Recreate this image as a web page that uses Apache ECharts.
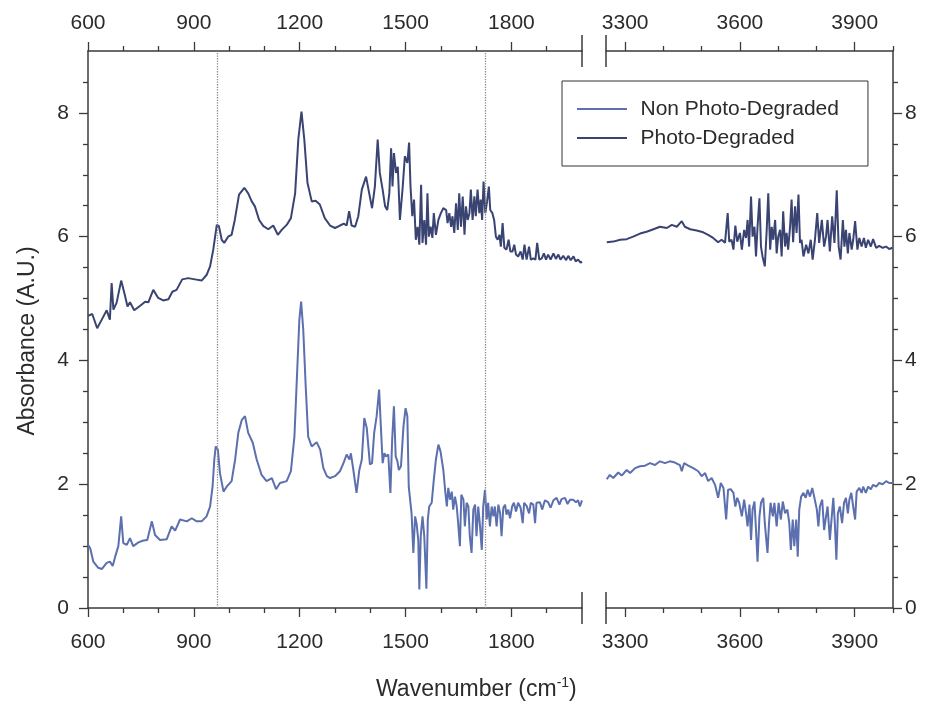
<!DOCTYPE html>
<html>
<head>
<meta charset="utf-8">
<script src="https://cdn.jsdelivr.net/npm/echarts@6/dist/echarts.min.js"></script>
<style>html,body{margin:0;padding:0;background:#fff}#c{width:927px;height:704px}</style>
</head>
<body>
<div id="c"></div>
<script>
// ---- Data (wavenumber, absorbance) ----
const degLeftX = [600,612,626,639,653,662,667,672,681,694,703,712,719,731,747,762,771,785,799,813,828,839,851,867,884,903,922,936,946,955,965,971,979,986,997,1007,1016,1028,1043,1054,1064,1073,1085,1097,1111,1125,1138,1149,1163,1175,1187,1196,1205,1213,1222,1234,1245,1257,1271,1286,1300,1314,1325,1333,1340,1347,1357,1366,1376,1388,1397,1405,1413,1421,1427,1435,1442,1448,1454,1459,1463,1467,1473,1478,1484,1492,1498,1505,1510,1514,1519,1524,1529,1534,1539,1544,1548,1553,1558,1562,1566,1571,1576,1580,1586,1593,1600,1607,1615,1619,1624,1629,1633,1638,1643,1648,1652,1657,1662,1667,1671,1676,1681,1685,1690,1695,1699,1704,1709,1713,1717,1721,1726,1731,1736,1740,1746,1751,1756,1761,1766,1770,1775,1780,1786,1792,1797,1803,1808,1813,1819,1826,1832,1837,1843,1850,1855,1862,1868,1873,1879,1886,1892,1898,1904,1911,1919,1926,1933,1939,1947,1955,1961,1968,1976,1982,1989,1996,2000];
const degLeftY = [4.72,4.75,4.52,4.66,4.81,4.66,5.25,4.82,4.93,5.29,5.09,4.87,4.94,4.81,4.88,4.95,4.94,5.14,5.01,4.97,4.99,5.11,5.14,5.31,5.33,5.31,5.29,5.38,5.52,5.79,6.19,6.17,5.95,5.90,6.00,6.03,6.27,6.68,6.79,6.70,6.57,6.49,6.27,6.17,6.12,6.18,6.03,6.11,6.19,6.30,6.70,7.57,8.02,7.57,6.87,6.57,6.58,6.52,6.30,6.18,6.14,6.18,6.21,6.18,6.41,6.18,6.16,6.33,6.76,6.97,6.70,6.46,6.81,7.57,7.03,6.76,6.49,6.43,6.70,7.43,6.81,7.35,7.03,7.13,6.27,6.81,7.30,7.19,7.52,6.81,6.33,6.60,5.95,6.16,5.87,6.84,5.90,6.27,5.87,6.70,6.00,6.16,5.98,6.38,6.03,6.27,6.38,6.46,6.43,6.22,6.38,6.16,6.33,6.06,6.54,6.11,6.70,6.16,6.65,6.03,6.49,6.27,6.38,6.76,6.27,6.65,6.33,6.76,6.38,6.60,6.27,6.89,6.38,6.57,6.81,6.43,6.38,6.27,6.00,5.95,6.03,5.84,6.22,5.82,5.79,5.95,5.76,5.76,5.87,5.71,5.68,5.76,5.63,5.87,5.63,5.84,5.63,5.65,5.63,5.90,5.63,5.65,5.73,5.63,5.71,5.63,5.73,5.64,5.71,5.63,5.69,5.62,5.69,5.62,5.68,5.60,5.63,5.58,5.60];

const nonDegLeftX = [600,606,615,629,639,653,662,670,677,686,694,700,710,719,728,743,757,768,781,790,804,823,837,847,861,880,894,908,922,936,946,953,958,962,968,974,984,993,1007,1017,1026,1036,1045,1054,1067,1078,1092,1106,1121,1133,1144,1163,1175,1185,1193,1199,1204,1210,1217,1224,1234,1248,1258,1267,1277,1286,1300,1314,1324,1333,1341,1345,1352,1361,1369,1376,1383,1390,1394,1399,1405,1411,1418,1425,1430,1435,1440,1444,1451,1457,1462,1467,1472,1477,1481,1487,1494,1500,1505,1509,1512,1517,1522,1527,1531,1536,1539,1543,1548,1553,1559,1563,1567,1574,1580,1586,1593,1599,1607,1612,1617,1621,1626,1631,1635,1640,1645,1649,1654,1658,1664,1668,1673,1678,1682,1687,1692,1697,1701,1706,1711,1716,1720,1725,1730,1734,1739,1744,1749,1753,1758,1763,1768,1772,1777,1782,1786,1791,1796,1802,1807,1813,1819,1826,1832,1836,1843,1850,1855,1862,1867,1871,1881,1887,1895,1904,1911,1919,1928,1936,1942,1952,1959,1966,1975,1983,1989,1994,2000];
const nonDegLeftY = [1.02,0.97,0.75,0.65,0.63,0.73,0.75,0.68,0.83,1.00,1.48,1.05,1.02,1.13,1.00,1.06,1.09,1.10,1.40,1.18,1.10,1.11,1.32,1.25,1.43,1.40,1.45,1.40,1.40,1.48,1.64,1.96,2.40,2.61,2.56,2.18,1.88,1.96,2.05,2.40,2.83,3.04,3.10,2.83,2.67,2.40,2.15,2.05,2.10,1.92,2.02,2.05,2.21,2.77,3.85,4.66,4.95,4.50,3.58,2.77,2.61,2.68,2.56,2.26,2.13,2.10,2.13,2.21,2.34,2.48,2.40,2.50,2.23,1.86,2.23,2.40,3.07,2.91,2.88,2.32,2.34,2.83,3.10,3.53,2.93,2.34,2.50,2.45,2.48,1.86,2.72,3.26,2.45,2.37,2.23,2.29,2.93,3.23,3.10,1.96,1.94,1.53,0.89,1.48,1.37,1.10,0.30,1.16,1.48,1.16,0.31,1.43,1.64,1.70,2.07,2.40,2.64,2.53,2.23,1.91,1.64,1.94,1.75,1.88,1.59,1.80,1.64,1.37,1.00,1.83,1.75,1.32,1.70,1.64,1.16,0.89,1.59,1.67,1.16,1.64,1.32,0.94,1.64,1.91,1.43,1.70,1.32,1.64,1.48,1.64,1.32,1.67,1.53,1.16,1.62,1.67,1.51,1.59,1.45,1.64,1.70,1.56,1.70,1.62,1.37,1.70,1.65,1.53,1.70,1.67,1.37,1.70,1.71,1.59,1.74,1.71,1.62,1.74,1.78,1.67,1.76,1.78,1.68,1.75,1.75,1.71,1.74,1.64,1.74];

const degRightX = [3252,3269,3287,3304,3321,3339,3356,3374,3391,3409,3422,3435,3448,3456,3470,3487,3504,3517,3530,3543,3552,3561,3568,3572,3578,3583,3588,3593,3600,3605,3611,3616,3620,3624,3629,3633,3638,3642,3646,3651,3655,3659,3665,3670,3674,3679,3683,3687,3692,3696,3700,3705,3709,3713,3718,3722,3726,3731,3735,3739,3744,3748,3753,3757,3761,3766,3773,3779,3785,3790,3796,3802,3807,3814,3820,3825,3829,3835,3841,3847,3853,3858,3863,3869,3873,3877,3882,3886,3892,3896,3901,3907,3912,3918,3924,3929,3935,3942,3948,3956,3964,3973,3982,3990,3999];
const degRightY = [5.91,5.92,5.95,5.96,6.00,6.05,6.08,6.12,6.16,6.14,6.19,6.16,6.25,6.16,6.12,6.10,6.07,6.03,5.98,5.91,5.95,5.90,6.38,5.92,5.95,5.79,6.18,5.92,6.06,5.79,6.11,5.98,6.27,5.84,6.65,6.00,6.16,5.68,6.16,6.62,5.84,5.68,5.52,6.11,6.70,5.79,6.16,5.95,6.27,5.73,6.00,6.11,5.68,6.41,5.84,6.06,5.79,6.16,6.60,5.91,6.49,6.06,6.68,5.90,5.95,5.68,5.87,5.73,5.95,5.63,5.95,6.38,5.90,6.27,5.84,6.00,6.27,5.76,6.33,5.90,6.75,5.84,5.63,6.27,5.84,6.11,5.73,6.06,5.79,5.95,6.25,5.79,5.98,5.84,5.98,5.82,5.95,5.84,5.96,5.82,5.85,5.82,5.84,5.80,5.82];

const nonDegRightX = [3252,3260,3269,3282,3291,3304,3313,3326,3339,3352,3365,3378,3391,3404,3417,3430,3443,3448,3454,3465,3478,3491,3500,3509,3517,3526,3535,3543,3550,3557,3564,3569,3576,3583,3588,3593,3598,3605,3611,3616,3620,3625,3629,3633,3638,3642,3646,3651,3655,3661,3665,3672,3676,3680,3686,3690,3696,3701,3707,3712,3718,3724,3729,3733,3738,3742,3747,3751,3755,3760,3766,3772,3777,3783,3789,3794,3801,3805,3809,3815,3820,3825,3829,3835,3840,3844,3848,3852,3856,3861,3867,3872,3877,3882,3886,3891,3896,3901,3905,3912,3918,3922,3929,3935,3942,3948,3956,3964,3973,3982,3990,3999];
const nonDegRightY = [2.08,2.15,2.10,2.19,2.14,2.23,2.18,2.26,2.29,2.30,2.34,2.31,2.37,2.34,2.37,2.35,2.31,2.21,2.34,2.30,2.26,2.21,2.13,2.18,2.05,2.10,1.99,1.78,2.02,1.94,1.43,1.91,1.92,1.86,1.64,1.78,1.70,1.48,1.75,1.53,1.32,1.67,1.10,1.59,1.72,1.26,0.75,1.48,1.70,1.78,1.37,0.89,1.37,1.70,1.48,1.70,1.32,1.70,1.43,1.72,1.53,1.59,1.37,0.94,1.43,1.00,1.43,0.83,1.59,1.80,1.86,1.78,1.91,1.80,1.94,1.80,1.59,1.32,1.64,1.75,1.26,1.48,1.64,1.10,1.48,1.78,1.37,0.78,1.53,1.64,1.37,1.70,1.78,1.53,1.75,1.86,1.64,1.43,1.88,1.94,1.86,1.96,1.86,1.96,1.92,1.99,1.96,2.02,2.00,2.05,2.02,2.02];

// ---- Tick values ----
const leftMajorTicks = [600, 900, 1200, 1500, 1800];
const leftMinorTicks = [700, 800, 1000, 1100, 1300, 1400, 1600, 1700, 1900];
const rightMajorTicks = [3300, 3600, 3900];
const rightMinorTicks = [3400, 3500, 3700, 3800, 4000];
const yMajorTicks = [0, 2, 4, 6, 8];
const yMinorTicks = [0.5, 1, 1.5, 2.5, 3, 3.5, 4.5, 5, 5.5, 6.5, 7, 7.5, 8.5];
const markerLines = [966, 1727];

const pairs = (xs, ys) => xs.map((x, i) => [x, ys[i]]);

const AXIS_COLOR = '#3a3a3a';
const TEXT_COLOR = '#2b2b2b';
const FONT = 'Liberation Sans, Arial, sans-serif';
const COLOR_NON = '#5c6fae';
const COLOR_DEG = '#3a4472';
const plain = v => String(v);

function xAx(grid, min, max, pos, ticks, major) {
  return {
    type: 'value', gridIndex: grid, min: min, max: max, position: pos,
    axisLine: { show: major, onZero: false, lineStyle: { color: AXIS_COLOR, width: 1.5 } },
    axisTick: { show: true, length: major ? 9 : 5, customValues: ticks, lineStyle: { color: AXIS_COLOR, width: 1.3 } },
    axisLabel: major ? { show: true, customValues: ticks, formatter: plain, margin: pos === 'top' ? 17 : 24, color: TEXT_COLOR, fontSize: 21, fontFamily: FONT } : { show: false },
    splitLine: { show: false }
  };
}
function yAx(grid, pos, ticks, major) {
  return {
    type: 'value', gridIndex: grid, min: 0, max: 9, position: pos,
    axisLine: { show: major, onZero: false, lineStyle: { color: AXIS_COLOR, width: 1.5 } },
    axisTick: { show: true, length: major ? 9 : 5, customValues: ticks, lineStyle: { color: AXIS_COLOR, width: 1.3 } },
    axisLabel: major ? { show: true, customValues: ticks, formatter: plain, margin: pos === 'left' ? 19 : 12, color: TEXT_COLOR, fontSize: 21, fontFamily: FONT } : { show: false },
    splitLine: { show: false }
  };
}

const chart = echarts.init(document.getElementById('c'), null, { renderer: 'canvas' });
const option = {
  animation: false,
  backgroundColor: '#ffffff',
  grid: [
    { left: 88, top: 51, width: 494, height: 557 },
    { left: 606, top: 51, width: 287, height: 557 }
  ],
  xAxis: [
    xAx(0, 600, 2000, 'bottom', leftMajorTicks, true),
    xAx(0, 600, 2000, 'bottom', leftMinorTicks, false),
    xAx(0, 600, 2000, 'top', leftMajorTicks, true),
    xAx(0, 600, 2000, 'top', leftMinorTicks, false),
    xAx(1, 3250, 4000, 'bottom', rightMajorTicks, true),
    xAx(1, 3250, 4000, 'bottom', rightMinorTicks, false),
    xAx(1, 3250, 4000, 'top', rightMajorTicks, true),
    xAx(1, 3250, 4000, 'top', rightMinorTicks, false)
  ],
  yAxis: [
    yAx(0, 'left', yMajorTicks, true),
    yAx(0, 'left', yMinorTicks, false),
    yAx(1, 'right', yMajorTicks, true),
    yAx(1, 'right', yMinorTicks, false)
  ],
  legend: {
    data: ['Non Photo-Degraded', 'Photo-Degraded'],
    orient: 'vertical', left: 562, top: 81,
    padding: [17, 29, 17, 15],
    borderColor: '#333', borderWidth: 1,
    icon: 'path://M0,0 L100,0 L100,4 L0,4 Z',
    itemWidth: 51, itemHeight: 2, itemGap: 7,
    selectedMode: false,
    textStyle: { fontSize: 21, color: TEXT_COLOR, fontFamily: FONT, lineHeight: 22, padding: [0, 0, 0, 8] }
  },
  series: [
    {
      name: 'Non Photo-Degraded', type: 'line', xAxisIndex: 0, yAxisIndex: 0,
      data: pairs(nonDegLeftX, nonDegLeftY), symbol: 'none', showSymbol: false,
      lineStyle: { color: COLOR_NON, width: 2 }, itemStyle: { color: COLOR_NON },
      markLine: {
        silent: true, symbol: ['none', 'none'], label: { show: false },
        lineStyle: { type: 'dotted', color: '#8a8a8a', width: 1.3 },
        data: markerLines.map(v => ({ xAxis: v }))
      }
    },
    {
      name: 'Photo-Degraded', type: 'line', xAxisIndex: 0, yAxisIndex: 0,
      data: pairs(degLeftX, degLeftY), symbol: 'none', showSymbol: false,
      lineStyle: { color: COLOR_DEG, width: 2 }, itemStyle: { color: COLOR_DEG }
    },
    {
      name: 'Non Photo-Degraded', type: 'line', xAxisIndex: 4, yAxisIndex: 2,
      data: pairs(nonDegRightX, nonDegRightY), symbol: 'none', showSymbol: false,
      lineStyle: { color: COLOR_NON, width: 2 }, itemStyle: { color: COLOR_NON }
    },
    {
      name: 'Photo-Degraded', type: 'line', xAxisIndex: 4, yAxisIndex: 2,
      data: pairs(degRightX, degRightY), symbol: 'none', showSymbol: false,
      lineStyle: { color: COLOR_DEG, width: 2 }, itemStyle: { color: COLOR_DEG }
    }
  ]
};
chart.setOption(option);

// Axis titles and break marks
const pL0 = chart.convertToPixel({ xAxisIndex: 0, yAxisIndex: 0 }, [2000, 0]);
const pL9 = chart.convertToPixel({ xAxisIndex: 0, yAxisIndex: 0 }, [2000, 9]);
const pR0 = chart.convertToPixel({ xAxisIndex: 4, yAxisIndex: 2 }, [3250, 0]);
const pR9 = chart.convertToPixel({ xAxisIndex: 4, yAxisIndex: 2 }, [3250, 9]);
const brk = (x, y) => ({ type: 'line', shape: { x1: x, y1: y - 16, x2: x, y2: y + 16 }, style: { stroke: AXIS_COLOR, lineWidth: 1.5 } });
chart.setOption({
  graphic: [
    brk(pL0[0], pL0[1]), brk(pL9[0], pL9[1]), brk(pR0[0], pR0[1]), brk(pR9[0], pR9[1]),
    {
      type: 'text', x: 28, y: 341, rotation: Math.PI / 2,
      style: { text: 'Absorbance (A.U.)', font: '23px ' + FONT, fill: TEXT_COLOR, align: 'center', verticalAlign: 'middle' }
    },
    {
      type: 'text', x: 376, y: 676,
      style: {
        text: 'Wavenumber (cm{sup|-1})', font: '23px ' + FONT, fill: TEXT_COLOR,
        rich: { sup: { fontSize: 14, fontFamily: FONT, fill: TEXT_COLOR, verticalAlign: 'top', lineHeight: 28 } }
      }
    }
  ]
});
</script>
</body>
</html>
